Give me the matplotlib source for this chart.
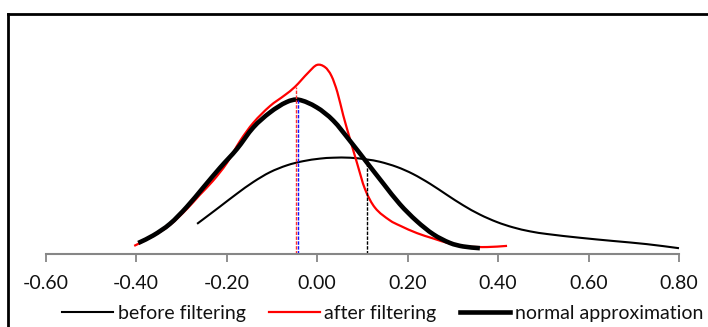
import matplotlib
matplotlib.use("Agg")
import matplotlib.pyplot as plt
from matplotlib.lines import Line2D
from matplotlib.path import Path
from matplotlib.patches import PathPatch

# ---- data ----
before_x = [-0.265, -0.236, -0.214, -0.177, -0.141, -0.104, -0.066, -0.031, 0.007, 0.035,
            0.073, 0.110, 0.139, 0.177, 0.212, 0.250, 0.287, 0.323, 0.360, 0.398,
            0.433, 0.471, 0.508, 0.581, 0.654, 0.729, 0.800]
before_y = [0.52, 0.69, 0.82, 1.04, 1.24, 1.41, 1.53, 1.60, 1.645, 1.66,
            1.66, 1.63, 1.59, 1.50, 1.38, 1.21, 1.02, 0.84, 0.68, 0.55,
            0.46, 0.39, 0.345, 0.28, 0.225, 0.17, 0.10]

after_x = [-0.404, -0.362, -0.325, -0.287, -0.259, -0.230, -0.199, -0.170, -0.141, -0.104,
           -0.071, -0.049, -0.019, 0.000, 0.018, 0.032, 0.045, 0.058, 0.073, 0.088,
           0.106, 0.128, 0.161, 0.183, 0.221, 0.256, 0.294, 0.331, 0.376, 0.420]
after_y = [0.14, 0.31, 0.50, 0.78, 1.02, 1.26, 1.57, 1.95, 2.26, 2.55,
           2.74, 2.88, 3.13, 3.26, 3.22, 3.07, 2.79, 2.39, 1.98, 1.58,
           1.12, 0.80, 0.58, 0.49, 0.36, 0.27, 0.18, 0.13, 0.12, 0.14]

normal_x = [-0.395, -0.362, -0.325, -0.288, -0.251, -0.214, -0.177, -0.141, -0.104, -0.067,
            -0.041, -0.001, 0.036, 0.073, 0.110, 0.147, 0.183, 0.220, 0.257, 0.294,
            0.323, 0.360]
normal_y = [0.19, 0.32, 0.52, 0.81, 1.15, 1.49, 1.81, 2.18, 2.44, 2.62,
            2.66, 2.53, 2.30, 1.95, 1.58, 1.21, 0.86, 0.57, 0.34, 0.19,
            0.13, 0.10]

marker_x = [-0.046, -0.042, 0.110]
marker_top = [2.88, 2.66, 1.63]
marker_colors = ["#ff3030", "#1010ff", "#000000"]

tick_values = [-0.60, -0.40, -0.20, 0.00, 0.20, 0.40, 0.60, 0.80]
tick_labels = ["-0.60", "-0.40", "-0.20", "0.00", "0.20", "0.40", "0.60", "0.80"]
series_names = ["before filtering", "after filtering", "normal approximation"]

plt.rcParams["font.family"] = ["Lato", "DejaVu Sans"]


def smooth_path(xs, ys):
    """Smoothed line through the data points (cubic Hermite segments drawn as Beziers)."""
    n = len(xs)
    m = []
    for i in range(n):
        a = max(i - 1, 0)
        b = min(i + 1, n - 1)
        m.append((ys[b] - ys[a]) / (xs[b] - xs[a]))
    verts = [(xs[0], ys[0])]
    codes = [Path.MOVETO]
    for i in range(n - 1):
        h = xs[i + 1] - xs[i]
        verts += [(xs[i] + h / 3, ys[i] + m[i] * h / 3),
                  (xs[i + 1] - h / 3, ys[i + 1] - m[i + 1] * h / 3),
                  (xs[i + 1], ys[i + 1])]
        codes += [Path.CURVE4] * 3
    return Path(verts, codes)


W, H = 708, 327
fig = plt.figure(figsize=(W / 100, H / 100), dpi=100)
ax = fig.add_axes([45.5 / W, (H - 254) / H, (679 - 45.5) / W, 240 / H])

styles = [("black", 1.5), ("#ff0000", 1.6), ("black", 3.3)]
for (xs, ys), (c, lw) in zip([(before_x, before_y), (after_x, after_y), (normal_x, normal_y)], styles):
    ax.add_patch(PathPatch(smooth_path(xs, ys), facecolor="none", edgecolor=c, lw=lw,
                           capstyle="butt", joinstyle="round", clip_on=False))

for xv, top, c in zip(marker_x, marker_top, marker_colors):
    ax.plot([xv, xv], [0, top], color=c, lw=1.0, linestyle=(0, (2.5, 1.0)), clip_on=False)
    ax.plot([xv], [0], marker="_", color=c, markersize=8, mew=1.2, clip_on=False)

ax.set_xlim(-0.6, 0.8)
ax.set_ylim(0, 240 / 58)
ax.set_xticks(tick_values)
ax.set_xticklabels(tick_labels)
ax.set_yticks([])
for s in ["top", "right", "left"]:
    ax.spines[s].set_visible(False)
ax.spines["bottom"].set_color("#868686")
ax.spines["bottom"].set_linewidth(1.5)
ax.tick_params(axis="x", direction="out", length=5.8, width=1.3, color="#868686",
               pad=9, labelsize=14, labelcolor="#111111")
ax.patch.set_alpha(0)

handles = [Line2D([], [], color=c, lw=lw) for c, lw in styles]
leg = fig.legend(handles, series_names, loc="center", bbox_to_anchor=(383 / W, (H - 313) / H),
                 ncol=3, frameon=False, fontsize=14, handlelength=2.6, handletextpad=0.25,
                 columnspacing=1.2, borderaxespad=0, borderpad=0)
for t in leg.get_texts():
    t.set_color("#111111")

# outer frame (left and top edges visible)
fig.add_artist(Line2D([8 / W, 8 / W], [0, (H - 14) / H], color="black", lw=2.0,
                      transform=fig.transFigure, solid_capstyle="projecting"))
fig.add_artist(Line2D([8 / W, 1.0], [(H - 14) / H, (H - 14) / H], color="black", lw=2.0,
                      transform=fig.transFigure, solid_capstyle="projecting"))

fig.savefig("out.png", dpi=100)
